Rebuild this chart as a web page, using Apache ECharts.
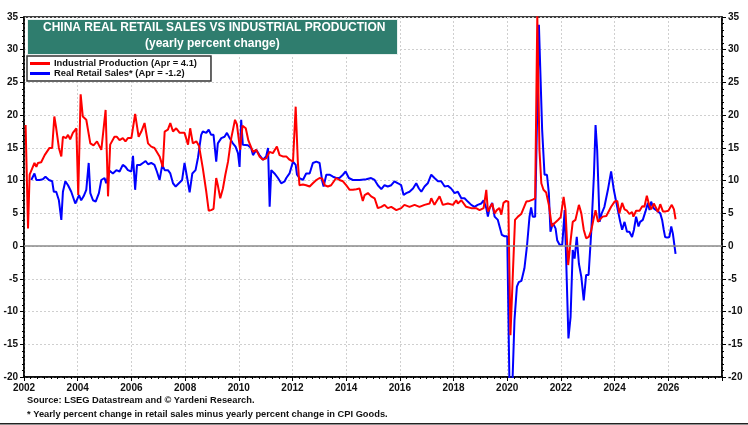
<!DOCTYPE html>
<html style='height: 100%'>
<head>
    <meta charset='utf-8'>
</head>
<body style='height: 100%; margin: 0; background: #fff'>
    <div id='container' style='width: 748px; height: 425px'></div>
    <script type='text/javascript' src='https://cdn.jsdelivr.net/npm/echarts@6/dist/echarts.min.js'></script>
    <script type="text/javascript">
// industrial production, yearly % change
var ipDates = [2002.06,2002.15,2002.21,2002.39,2002.46,2002.52,2002.64,2002.77,2002.95,2003.05,2003.13,2003.20,2003.30,2003.39,2003.45,2003.57,2003.64,2003.72,2003.82,2003.95,
    2004.02,2004.11,2004.19,2004.32,2004.47,2004.59,2004.72,2004.88,2004.94,2005.04,2005.13,2005.21,2005.37,2005.46,2005.56,2005.68,2005.78,2005.87,2006.00,2006.06,
    2006.14,2006.27,2006.37,2006.49,2006.62,2006.74,2006.86,2007.05,2007.17,2007.24,2007.36,2007.45,2007.55,2007.67,2007.80,2007.98,2008.11,2008.19,2008.29,2008.42,
    2008.52,2008.66,2008.79,2008.88,2008.97,2009.06,2009.16,2009.22,2009.31,2009.41,2009.50,2009.60,2009.72,2009.86,2009.93,2009.99,2010.05,2010.14,2010.26,2010.36,
    2010.53,2010.65,2010.77,2010.90,2011.02,2011.15,2011.27,2011.42,2011.52,2011.64,2011.77,2011.89,2012.02,2012.12,2012.20,2012.26,2012.39,2012.51,2012.64,2012.76,
    2012.89,2013.01,2013.11,2013.20,2013.32,2013.44,2013.63,2013.75,2013.88,2014.00,2014.13,2014.25,2014.38,2014.50,2014.62,2014.69,2014.81,2014.93,2015.06,2015.18,
    2015.31,2015.43,2015.55,2015.68,2015.87,2016.05,2016.17,2016.36,2016.55,2016.73,2016.92,2017.11,2017.17,2017.29,2017.48,2017.60,2017.79,2017.98,2018.10,2018.16,
    2018.29,2018.47,2018.66,2018.84,2018.97,2019.12,2019.22,2019.28,2019.34,2019.44,2019.53,2019.61,2019.71,2019.78,2019.86,2019.96,2020.04,2020.12,2020.21,2020.29,
    2020.40,2020.52,2020.58,2020.71,2020.83,2020.95,2021.04,2021.12,2021.20,2021.27,2021.35,2021.45,2021.55,2021.66,2021.76,2021.89,2021.99,2022.10,2022.17,2022.27,
    2022.36,2022.44,2022.54,2022.67,2022.76,2022.85,2022.94,2023.04,2023.13,2023.21,2023.29,2023.38,2023.48,2023.56,2023.69,2023.76,2023.87,2024.00,2024.10,2024.18,
    2024.28,2024.37,2024.46,2024.55,2024.65,2024.70,2024.80,2024.93,2025.03,2025.11,2025.20,2025.28,2025.36,2025.46,2025.55,2025.61,2025.70,2025.80,2025.90,2026.00,
    2026.05,2026.13,2026.21,2026.27];
var ipValues = [18.5,2.7,10.9,12.7,12.1,12.7,12.8,13.9,15.0,15.0,19.8,18.0,15.0,13.7,16.7,16.5,17.0,16.3,17.3,18.0,
    7.8,23.2,19.8,19.3,15.7,15.4,16.0,14.7,14.4,20.8,7.6,15.5,16.7,16.7,16.2,16.5,16.0,16.5,16.5,16.7,
    20.2,16.7,17.5,18.8,15.7,15.2,15.0,13.7,12.1,17.5,17.8,18.8,17.5,18.0,17.3,17.3,15.5,18.0,15.7,16.0,
    15.3,11.9,8.3,5.4,5.5,5.7,10.4,9.3,7.3,8.8,10.9,12.9,16.5,19.3,18.6,18.4,14.7,18.4,18.0,16.1,
    14.4,14.7,13.7,13.2,13.4,14.4,14.2,15.2,13.9,13.7,13.7,13.2,12.9,21.3,12.9,9.3,9.4,9.3,9.1,9.6,
    10.1,10.4,10.3,9.3,9.1,9.3,10.4,10.1,9.9,9.3,8.6,8.6,8.7,8.8,6.9,7.8,8.1,7.6,7.3,5.8,
    6.0,6.3,5.8,6.0,5.5,5.8,6.3,6.0,6.3,6.0,6.3,6.5,7.3,6.3,7.6,6.3,6.5,6.3,7.0,6.5,
    7.0,6.0,5.8,5.8,5.5,5.8,8.6,5.3,5.5,6.5,5.0,5.5,5.8,4.8,6.6,6.9,6.8,-13.6,-4.2,4.0,
    4.5,4.9,5.0,6.8,6.9,7.1,7.3,35.1,14.7,9.6,8.6,8.2,6.3,3.0,3.5,4.0,4.4,7.5,5.5,-2.9,
    0.8,3.7,4.0,6.3,5.0,2.5,1.2,1.4,2.4,4.0,5.5,3.7,4.2,4.5,4.6,4.5,6.0,6.8,6.9,5.0,
    6.6,5.6,5.4,4.9,5.2,4.5,5.4,5.4,6.1,6.0,7.7,6.4,5.6,6.5,5.8,5.2,6.4,5.3,5.3,5.4,
    5.5,6.3,5.6,4.1];

// real retail sales, yearly % change
var rsDates = [2002.27,2002.39,2002.46,2002.58,2002.70,2002.80,2002.93,2003.05,2003.11,2003.20,2003.30,2003.39,2003.45,2003.54,2003.64,2003.76,2003.82,2003.91,2003.98,2004.05,
    2004.13,2004.22,2004.32,2004.41,2004.47,2004.57,2004.67,2004.79,2004.88,2005.00,2005.06,2005.19,2005.31,2005.44,2005.56,2005.68,2005.78,2005.87,2006.00,2006.06,
    2006.14,2006.21,2006.33,2006.43,2006.53,2006.62,2006.74,2006.86,2006.95,2007.05,2007.15,2007.24,2007.36,2007.45,2007.55,2007.65,2007.77,2007.89,2007.98,2008.07,
    2008.17,2008.27,2008.39,2008.48,2008.60,2008.66,2008.79,2008.88,2008.97,2009.06,2009.16,2009.22,2009.35,2009.47,2009.56,2009.66,2009.78,2009.88,2009.97,2010.03,
    2010.09,2010.15,2010.22,2010.34,2010.46,2010.53,2010.65,2010.77,2010.90,2011.02,2011.09,2011.15,2011.21,2011.33,2011.46,2011.58,2011.71,2011.77,2011.89,2012.02,
    2012.12,2012.17,2012.26,2012.39,2012.51,2012.64,2012.76,2012.89,2013.01,2013.11,2013.16,2013.26,2013.38,2013.51,2013.63,2013.75,2013.88,2013.98,2014.10,2014.25,
    2014.38,2014.50,2014.75,2014.93,2015.06,2015.18,2015.31,2015.43,2015.55,2015.68,2015.80,2015.93,2016.05,2016.14,2016.24,2016.36,2016.49,2016.61,2016.71,2016.80,
    2016.92,2017.04,2017.17,2017.29,2017.42,2017.54,2017.67,2017.79,2017.91,2018.04,2018.16,2018.29,2018.41,2018.53,2018.66,2018.78,2018.90,2019.03,2019.12,2019.22,
    2019.28,2019.34,2019.44,2019.53,2019.65,2019.71,2019.80,2019.90,2020.00,2020.09,2020.19,2020.27,2020.36,2020.43,2020.53,2020.64,2020.74,2020.83,2020.89,2020.95,
    2021.04,2021.18,2021.23,2021.30,2021.39,2021.48,2021.55,2021.61,2021.70,2021.80,2021.86,2021.95,2022.05,2022.14,2022.20,2022.28,2022.36,2022.44,2022.51,2022.59,
    2022.67,2022.76,2022.85,2022.94,2023.03,2023.13,2023.23,2023.29,2023.35,2023.44,2023.52,2023.62,2023.75,2023.87,2023.97,2024.03,2024.12,2024.21,2024.28,2024.37,
    2024.46,2024.55,2024.65,2024.72,2024.80,2024.89,2024.95,2025.05,2025.15,2025.24,2025.30,2025.36,2025.45,2025.55,2025.61,2025.70,2025.77,2025.83,2025.88,2025.96,
    2026.04,2026.11,2026.17,2026.27];
var rsValues = [10.1,11.1,10.1,10.1,10.2,10.6,10.1,9.9,8.3,8.3,7.0,4.0,8.3,9.9,9.3,8.3,8.1,6.5,6.5,7.8,
    7.0,7.6,8.6,12.7,8.1,7.0,6.8,8.1,10.1,10.4,9.6,11.5,11.1,11.6,11.4,12.4,12.1,11.6,11.4,13.8,
    8.6,12.4,12.4,12.7,13.0,12.5,12.7,12.4,11.4,10.1,12.4,11.6,11.6,11.1,9.6,9.1,9.6,10.1,12.7,10.6,
    8.2,11.1,11.6,13.5,17.0,17.5,17.3,17.8,17.0,17.0,12.9,15.7,16.5,16.7,17.3,16.5,15.7,15.2,14.2,12.1,
    19.3,15.5,15.2,15.4,15.0,13.9,14.7,13.9,13.2,13.7,15.0,6.0,11.6,11.1,10.4,9.6,9.9,10.4,11.1,12.9,
    12.4,10.9,10.4,10.1,11.1,11.1,12.7,12.9,12.7,9.9,9.1,10.9,10.9,10.6,10.4,10.4,10.9,11.4,10.4,10.1,
    10.1,10.1,10.2,10.4,10.1,9.3,8.7,9.3,9.1,9.3,9.9,9.6,9.3,7.8,8.1,8.3,8.8,9.6,8.8,8.3,
    9.1,9.6,10.9,10.4,9.9,9.9,9.1,9.2,8.8,8.1,8.3,7.3,7.3,6.8,6.3,6.0,6.3,6.5,7.0,5.8,
    4.5,5.8,6.6,4.5,4.0,3.9,1.7,1.5,1.5,-23.0,-21.5,-11.3,-6.2,-5.5,-5.3,-3.4,0.2,4.5,5.9,4.5,
    4.5,33.8,33.6,17.8,10.9,10.9,8.1,2.2,3.5,2.7,0.9,0.2,0.2,5.5,-2.7,-14.1,-10.8,-0.6,-1.9,1.4,
    -2.7,-4.7,-8.3,-4.4,-4.4,2.2,10.9,18.5,14.7,3.7,5.0,6.0,8.6,11.4,8.6,8.3,5.5,3.7,2.5,3.7,
    2.2,2.2,1.4,2.5,4.5,3.0,3.7,4.0,5.3,6.6,5.5,6.8,5.8,5.5,5.8,5.0,4.0,2.5,1.4,1.3,
    1.4,3.0,1.9,-1.2];

var ipName = 'Industrial Production (Apr = 4.1)';
var rsName = 'Real Retail Sales* (Apr = -1.2)';
var xTicks = [2002, 2028, 2];
var yTicks = [-20, 35, 5];

function pairs(xs, ys) {
    var out = [];
    for (var i = 0; i < xs.length; i++) out.push([xs[i], ys[i]]);
    return out;
}

var dom = document.getElementById("container");
var myChart = echarts.init(dom, null, {renderer: 'canvas'});
var font = 'Liberation Sans, Arial, sans-serif';

function yAxisOf(pos) {
    return {
        type: 'value', position: pos,
        min: yTicks[0], max: yTicks[1], interval: yTicks[2],
        axisLine: {show: true, lineStyle: {color: '#000', width: 1.5}},
        axisTick: {show: true, length: 4, lineStyle: {color: '#000'}},
        minorTick: {show: true, splitNumber: 5, length: 2, lineStyle: {color: '#000'}},
        axisLabel: {color: '#111', fontFamily: font, fontWeight: 'bold', fontSize: 10, margin: 6},
        splitLine: {show: pos === 'left', lineStyle: {color: '#cfcfcf', type: [2, 2], width: 1}}
    };
}

var option = {
    animation: false,
    backgroundColor: '#fff',
    grid: {left: 24, right: 26, top: 17, bottom: 48, show: true, borderColor: '#000', borderWidth: 1.5, backgroundColor: 'transparent'},
    legend: {
        left: 27, top: 56, orient: 'vertical', itemGap: 1,
        padding: [3, 14, 3, 3],
        borderColor: '#333', borderWidth: 1.5, backgroundColor: '#fff',
        icon: 'rect', itemWidth: 20, itemHeight: 3,
        textStyle: {fontFamily: font, fontWeight: 'bold', fontSize: 9.4, color: '#111', padding: [0, 0, 0, -1]},
        data: [ipName, rsName]
    },
    xAxis: {
        type: 'value', min: xTicks[0], max: xTicks[1], interval: xTicks[2],
        axisLine: {show: true, onZero: false, lineStyle: {color: '#000', width: 1.5}},
        axisTick: {show: true, length: 4, lineStyle: {color: '#000'}},
        minorTick: {show: true, splitNumber: 8, length: 2, lineStyle: {color: '#000'}},
        axisLabel: {
            color: '#111', fontFamily: font, fontWeight: 'bold', fontSize: 10, margin: 6,
            formatter: function (v) { return v >= 2028 ? '' : String(v); }
        },
        splitLine: {show: true, lineStyle: {color: '#cfcfcf', type: [2, 2], width: 1}}
    },
    yAxis: [yAxisOf('left'), yAxisOf('right')],
    graphic: [
        {type: 'rect', left: 27, top: 19, shape: {width: 370, height: 35},
            style: {fill: '#2f7d6e', stroke: '#e8f0ee', lineWidth: 1}, z: 100},
        {type: 'text', left: 43, top: 22, z: 101,
            style: {text: 'CHINA REAL RETAIL SALES VS INDUSTRIAL PRODUCTION', fill: '#fff',
                font: 'bold 12px ' + font}},
        {type: 'text', left: 145, top: 38, z: 101,
            style: {text: '(yearly percent change)', fill: '#fff', font: 'bold 12px ' + font}},
        {type: 'text', left: 27, top: 396, style: {text: 'Source: LSEG Datastream and \u00a9 Yardeni Research.', fill: '#111', font: 'bold 9.3px ' + font}},
        {type: 'text', left: 27, top: 410, style: {text: '* Yearly percent change in retail sales minus yearly percent change in CPI Goods.', fill: '#111', font: 'bold 9.3px ' + font}},
        {type: 'rect', left: 0, top: 423, shape: {width: 748, height: 1.5}, style: {fill: '#222'}}
    ],
    series: [
        {
            name: rsName, type: 'line', showSymbol: false, symbol: 'none',
            lineStyle: {color: '#0000ff', width: 2}, itemStyle: {color: '#0000ff'},
            data: pairs(rsDates, rsValues), z: 3,
            markLine: {
                silent: true, symbol: 'none', label: {show: false},
                lineStyle: {color: '#8a8a8a', type: 'solid', width: 1.5},
                data: [{yAxis: 0}]
            }
        },
        {
            name: ipName, type: 'line', showSymbol: false, symbol: 'none',
            lineStyle: {color: '#ff0000', width: 2}, itemStyle: {color: '#ff0000'},
            data: pairs(ipDates, ipValues), z: 4
        }
    ]
};
myChart.setOption(option, true);
    </script>
</body>
</html>
